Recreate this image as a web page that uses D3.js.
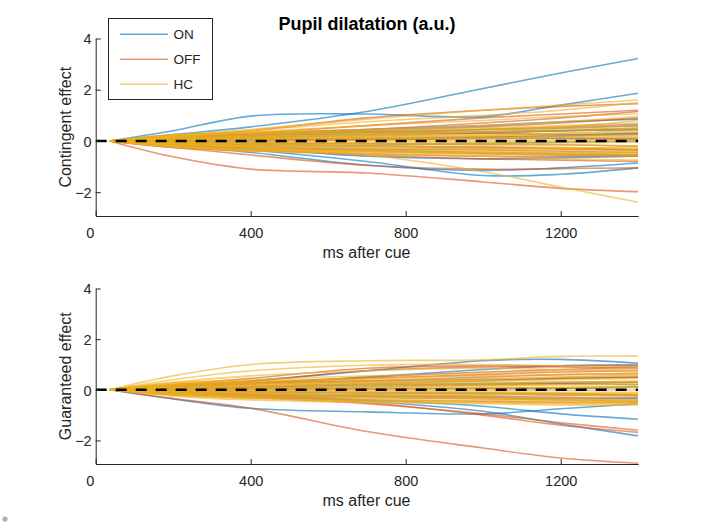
<!DOCTYPE html>
<html><head><meta charset="utf-8">
<script src="https://cdn.jsdelivr.net/npm/d3@7"></script>
<style>
body{margin:0;background:#fff}
text{font-family:"Liberation Sans",Arial,Helvetica,sans-serif;fill:#262626}
</style>
</head><body>
<svg id="c" width="704" height="529"></svg>
<script>
// ---------- data ----------
const timePoints = [35, 200, 400, 700, 1000, 1200, 1400];   // ms after cue
const xTicks = [0, 400, 800, 1200];
const yTicks = [-2, 0, 2, 4];
const groups = ["ON", "OFF", "HC"];

const contingentON = [
  [0, 0.25, 0.55, 1.15, 2.05, 2.65, 3.22],
  [0, 0.4, 0.97, 1.05, 0.95, 1.4, 1.86],
  [0, -0.15, -0.35, -0.8, -1.35, -1.3, -1.05],
  [0, -0.2, -0.45, -0.95, -1.15, -1.05, -0.86],
  [0, -0.15, -0.3, -0.6, -0.7, -0.65, -0.6],
  [0, 0.15, 0.28, 0.45, 0.6, 0.75, 0.85],
  [0, 0.1, 0.2, 0.3, 0.35, 0.4, 0.45],
  [0, 0.15, 0.25, 0.35, 0.45, 0.5, 0.6],
  [0, 0.1, 0.15, 0.25, 0.35, 0.4, 0.45],
  [0, 0.05, 0.08, 0.1, 0.15, 0.2, 0.25],
  [0, 0.0, 0.02, 0.05, 0.1, 0.1, 0.05],
  [0, -0.05, -0.08, -0.12, -0.1, -0.05, 0.0],
  [0, -0.1, -0.15, -0.2, -0.25, -0.3, -0.35],
  [0, -0.15, -0.25, -0.35, -0.45, -0.5, -0.55],
  [0, 0.12, 0.2, 0.35, 0.3, 0.25, 0.3]
];
const contingentOFF = [
  [0, -0.62, -1.1, -1.25, -1.6, -1.85, -1.98],
  [0, -0.25, -0.55, -0.95, -1.1, -1.08, -1.05],
  [0, 0.2, 0.4, 0.9, 1.2, 1.35, 1.45],
  [0, 0.15, 0.3, 0.6, 0.9, 1.05, 1.2],
  [0, 0.15, 0.28, 0.45, 0.7, 0.9, 1.15],
  [0, -0.15, -0.3, -0.55, -0.7, -0.75, -0.8],
  [0, 0.2, 0.3, 0.4, 0.55, 0.7, 0.9],
  [0, 0.15, 0.22, 0.3, 0.45, 0.55, 0.65],
  [0, 0.1, 0.15, 0.2, 0.3, 0.4, 0.5],
  [0, 0.05, 0.08, 0.1, 0.15, 0.2, 0.3],
  [0, 0.0, 0.0, 0.05, 0.1, 0.1, 0.1],
  [0, -0.05, -0.08, -0.1, -0.15, -0.15, -0.2],
  [0, -0.1, -0.15, -0.2, -0.25, -0.3, -0.35],
  [0, -0.15, -0.22, -0.3, -0.35, -0.4, -0.45],
  [0, -0.2, -0.3, -0.4, -0.5, -0.55, -0.6],
  [0, -0.25, -0.38, -0.5, -0.6, -0.6, -0.55]
];
const contingentHC = [
  [0, -0.1, -0.25, -0.55, -1.2, -1.8, -2.39],
  [0, 0.2, 0.45, 0.85, 1.2, 1.4, 1.6],
  [0, 0.15, 0.4, 0.75, 1.0, 1.2, 1.5],
  [0, 0.2, 0.35, 0.6, 0.8, 0.95, 1.05],
  [0, -0.2, -0.35, -0.5, -0.6, -0.7, -0.75],
  [0, 0.25, 0.35, 0.45, 0.6, 0.75, 0.95],
  [0, 0.22, 0.32, 0.4, 0.5, 0.6, 0.7],
  [0, 0.2, 0.3, 0.35, 0.45, 0.55, 0.8],
  [0, 0.18, 0.27, 0.3, 0.35, 0.4, 0.45],
  [0, 0.16, 0.24, 0.3, 0.4, 0.5, 0.6],
  [0, 0.14, 0.2, 0.22, 0.25, 0.3, 0.35],
  [0, 0.12, 0.18, 0.25, 0.35, 0.45, 0.5],
  [0, 0.1, 0.15, 0.18, 0.2, 0.2, 0.25],
  [0, 0.08, 0.12, 0.15, 0.2, 0.3, 0.4],
  [0, 0.06, 0.09, 0.1, 0.1, 0.12, 0.15],
  [0, 0.04, 0.06, 0.08, 0.12, 0.15, 0.2],
  [0, 0.02, 0.03, 0.02, 0.0, 0.02, 0.05],
  [0, -0.02, -0.03, -0.05, -0.05, -0.03, 0.0],
  [0, -0.04, -0.06, -0.1, -0.12, -0.15, -0.2],
  [0, -0.06, -0.1, -0.12, -0.1, -0.08, -0.05],
  [0, -0.08, -0.13, -0.18, -0.22, -0.25, -0.3],
  [0, -0.1, -0.16, -0.2, -0.25, -0.3, -0.35],
  [0, -0.12, -0.19, -0.25, -0.3, -0.35, -0.4],
  [0, -0.14, -0.22, -0.3, -0.3, -0.28, -0.25],
  [0, -0.16, -0.26, -0.35, -0.4, -0.45, -0.5],
  [0, -0.18, -0.3, -0.4, -0.45, -0.5, -0.55],
  [0, -0.2, -0.33, -0.42, -0.45, -0.45, -0.45],
  [0, -0.22, -0.36, -0.45, -0.5, -0.55, -0.6],
  [0, -0.25, -0.4, -0.5, -0.55, -0.5, -0.45]
];

const guaranteedON = [
  [0, -0.36, -0.73, -0.87, -0.95, -0.75, -0.55],
  [0, -0.1, -0.25, -0.45, -0.85, -1.35, -1.82],
  [0, -0.1, -0.2, -0.4, -0.65, -0.95, -1.16],
  [0, 0.15, 0.35, 0.75, 1.15, 1.2, 1.05],
  [0, 0.12, 0.25, 0.5, 0.8, 0.95, 0.95],
  [0, 0.15, 0.25, 0.35, 0.4, 0.45, 0.5],
  [0, 0.08, 0.12, 0.2, 0.25, 0.3, 0.3],
  [0, 0.02, 0.03, 0.05, 0.05, 0.05, 0.1],
  [0, -0.05, -0.08, -0.12, -0.15, -0.2, -0.2],
  [0, -0.1, -0.18, -0.25, -0.3, -0.35, -0.35],
  [0, 0.05, 0.1, 0.2, 0.2, 0.25, 0.2]
];
const guaranteedOFF = [
  [0, -0.35, -0.73, -1.65, -2.3, -2.69, -2.9],
  [0, -0.15, -0.3, -0.55, -0.95, -1.3, -1.6],
  [0, -0.1, -0.2, -0.5, -1.0, -1.4, -1.68],
  [0, 0.2, 0.45, 0.85, 0.95, 0.95, 1.0],
  [0, 0.18, 0.35, 0.75, 0.9, 0.9, 0.85],
  [0, 0.2, 0.3, 0.45, 0.6, 0.7, 0.75],
  [0, 0.15, 0.22, 0.35, 0.5, 0.6, 0.65],
  [0, 0.1, 0.15, 0.25, 0.35, 0.45, 0.5],
  [0, 0.05, 0.08, 0.12, 0.2, 0.25, 0.3],
  [0, 0.0, 0.0, 0.02, 0.05, 0.08, 0.12],
  [0, -0.05, -0.08, -0.1, -0.12, -0.15, -0.2],
  [0, -0.1, -0.15, -0.2, -0.25, -0.3, -0.3],
  [0, -0.15, -0.22, -0.3, -0.35, -0.4, -0.45],
  [0, -0.2, -0.3, -0.4, -0.45, -0.5, -0.5],
  [0, 0.12, 0.25, 0.5, 0.7, 0.8, 0.9]
];
const guaranteedHC = [
  [0, 0.55, 1.0, 1.15, 1.18, 1.32, 1.33],
  [0, 0.4, 0.75, 0.97, 1.0, 0.95, 0.9],
  [0, 0.3, 0.55, 0.75, 0.85, 0.8, 0.75],
  [0, -0.25, -0.4, -0.5, -0.55, -0.6, -0.6],
  [0, 0.28, 0.4, 0.55, 0.65, 0.75, 0.8],
  [0, 0.25, 0.36, 0.45, 0.55, 0.6, 0.65],
  [0, 0.22, 0.32, 0.4, 0.45, 0.5, 0.55],
  [0, 0.2, 0.28, 0.35, 0.35, 0.4, 0.45],
  [0, 0.18, 0.25, 0.3, 0.4, 0.5, 0.6],
  [0, 0.15, 0.22, 0.28, 0.3, 0.3, 0.3],
  [0, 0.12, 0.18, 0.22, 0.25, 0.3, 0.35],
  [0, 0.1, 0.15, 0.2, 0.2, 0.2, 0.2],
  [0, 0.08, 0.12, 0.15, 0.15, 0.2, 0.25],
  [0, 0.06, 0.08, 0.1, 0.1, 0.1, 0.1],
  [0, 0.04, 0.05, 0.05, 0.05, 0.08, 0.1],
  [0, 0.02, 0.02, 0.0, -0.02, -0.02, 0.0],
  [0, -0.02, -0.03, -0.05, -0.08, -0.1, -0.1],
  [0, -0.04, -0.06, -0.1, -0.12, -0.15, -0.15],
  [0, -0.06, -0.1, -0.12, -0.15, -0.2, -0.25],
  [0, -0.08, -0.13, -0.18, -0.2, -0.22, -0.2],
  [0, -0.1, -0.16, -0.22, -0.3, -0.35, -0.4],
  [0, -0.12, -0.2, -0.28, -0.35, -0.4, -0.45],
  [0, -0.14, -0.24, -0.32, -0.35, -0.38, -0.4],
  [0, -0.16, -0.28, -0.38, -0.42, -0.45, -0.5],
  [0, -0.18, -0.32, -0.42, -0.5, -0.55, -0.55],
  [0, -0.2, -0.35, -0.45, -0.5, -0.5, -0.5]
];

// ---------- drawing ----------
const colors = {ON: "rgb(0,114,189)", OFF: "rgb(217,83,25)", HC: "rgb(237,177,32)"};
const svg = d3.select("#c");
const x = d3.scaleLinear().domain([0, 1400]).range([95.7, 638.2]);

const panels = [
  {ylabel: "Contingent effect", series: {ON: contingentON, OFF: contingentOFF, HC: contingentHC}, top: 38.5, bottom: 216},
  {ylabel: "Guaranteed effect", series: {ON: guaranteedON, OFF: guaranteedOFF, HC: guaranteedHC}, top: 288.5, bottom: 464}
];

panels.forEach((p, i) => {
  const y = d3.scaleLinear().domain([-2.93, 4]).range([p.bottom, p.top]);
  const clipId = "clip" + i;
  svg.append("clipPath").attr("id", clipId).append("rect")
    .attr("x", x(0)).attr("y", p.top).attr("width", x(1400) - x(0)).attr("height", p.bottom - p.top);
  const g = svg.append("g").attr("clip-path", `url(#${clipId})`);
  const line = d3.line().x((d, k) => x(timePoints[k])).y(d => y(d)).curve(d3.curveCatmullRom.alpha(0.5));
  groups.forEach(grp => {
    g.selectAll(null).data(p.series[grp]).enter().append("path")
      .attr("d", line)
      .attr("fill", "none")
      .attr("stroke", colors[grp])
      .attr("stroke-opacity", 0.6)
      .attr("stroke-width", 1.6);
  });
  // zero reference line
  g.append("path")
    .attr("d", d3.line().x(d => x(d)).y(() => y(0))([0, 1400]))
    .attr("stroke", "#000").attr("stroke-width", 2.4)
    .attr("stroke-dasharray", "11,9").attr("fill", "none");

  // axes
  const ax = svg.append("g").attr("transform", `translate(0,${p.bottom})`)
    .call(d3.axisBottom(x).tickValues(xTicks).tickSize(-5).tickSizeOuter(0).tickPadding(11.5).tickFormat(d3.format("d")));
  const ay = svg.append("g").attr("transform", `translate(${x(0)},0)`)
    .call(d3.axisLeft(y).tickValues(yTicks).tickSize(-5).tickSizeOuter(0).tickPadding(4).tickFormat(d3.format("d")));
  [ax, ay].forEach(a => {
    a.select(".domain").attr("stroke", "#262626").attr("stroke-width", 1);
    a.selectAll(".tick line").attr("stroke", "#262626");
    a.selectAll(".tick text").attr("font-size", 14.5).attr("fill", "#262626")
      .attr("font-family", '"Liberation Sans",Arial,sans-serif');
  });
  ax.selectAll(".tick").filter(d => d === 0).select("text").attr("dx", -6);
  ay.selectAll(".tick text").attr("dy", "0.36em");

  svg.append("text").attr("x", 366.5).attr("y", p.bottom + 42)
    .attr("text-anchor", "middle").attr("font-size", 16).text("ms after cue");
  svg.append("text")
    .attr("transform", `translate(71,${(p.top + p.bottom) / 2}) rotate(-90)`)
    .attr("text-anchor", "middle").attr("font-size", 16).text(p.ylabel);
});

// title
svg.append("text").attr("x", 367).attr("y", 29.5).attr("text-anchor", "middle")
  .attr("font-size", 18).attr("font-weight", "bold").style("fill", "#000")
  .text("Pupil dilatation (a.u.)");

// legend
const lg = svg.append("g");
lg.append("rect").attr("x", 108.5).attr("y", 18.5).attr("width", 104).attr("height", 81)
  .attr("fill", "#fff").attr("stroke", "#262626").attr("stroke-width", 1);
groups.forEach((grp, k) => {
  const yy = 34.3 + k * 25;
  lg.append("line").attr("x1", 120).attr("x2", 168).attr("y1", yy).attr("y2", yy)
    .attr("stroke", colors[grp]).attr("stroke-opacity", 0.6).attr("stroke-width", 1.6);
  lg.append("text").attr("x", 173.5).attr("y", yy).attr("dy", "0.36em")
    .attr("font-size", 13.5).text(grp);
});

// small marker at bottom-left corner
svg.append("circle").attr("cx", 5).attr("cy", 519).attr("r", 2.6).attr("fill", "#b0b0b0");
</script>
</body></html>
